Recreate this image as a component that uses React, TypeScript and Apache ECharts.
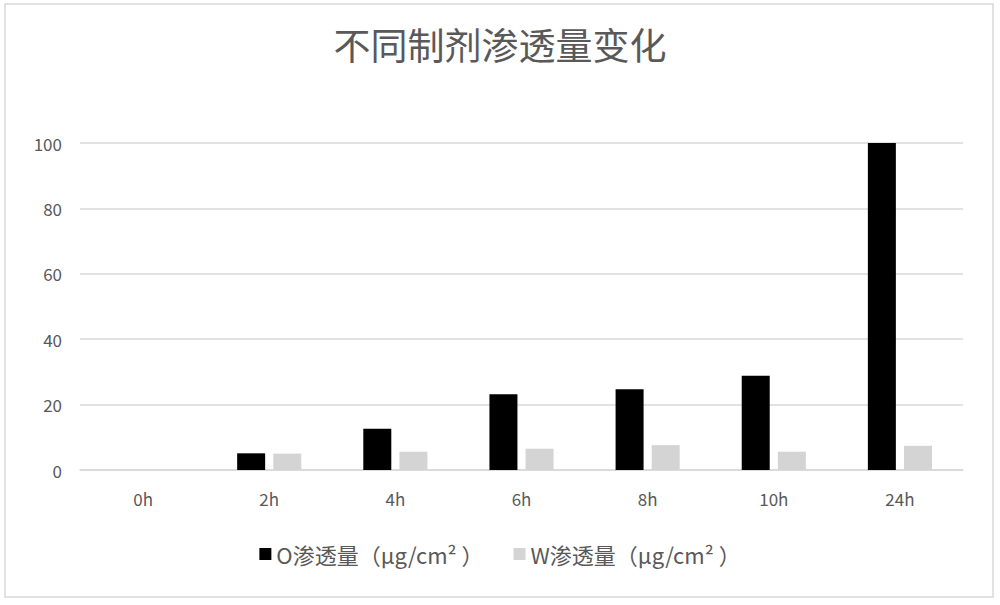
import { useRef, useEffect } from "react";
import * as echarts from "echarts";

const categories = ["0h", "2h", "4h", "6h", "8h", "10h", "24h"];
const oValues = [0, 5.1, 12.6, 23.2, 24.7, 28.8, 100];
const wValues = [0, 5.0, 5.6, 6.5, 7.6, 5.6, 7.4];
const seriesNames = ["O渗透量（μg/cm² ）", "W渗透量（μg/cm² ）"];

const FONT = "'Noto Sans CJK SC', 'Noto Sans', sans-serif";

function App() {
    const chartRef = useRef<HTMLDivElement | null>(null);

    useEffect(() => {
        if (!chartRef.current) return;
        const chart = echarts.init(chartRef.current, undefined, { renderer: "svg" });

        chart.setOption({
            animation: false,
            backgroundColor: "#fff",
            title: {
                text: "不同制剂渗透量变化",
                left: "center",
                top: 20,
                textStyle: { fontFamily: FONT, fontSize: 37, fontWeight: "normal", color: "#595959" },
            },
            legend: {
                data: seriesNames,
                bottom: 35,
                left: "center",
                itemWidth: 12,
                itemHeight: 12,
                itemGap: 30,
                icon: "rect",
                textStyle: { fontFamily: FONT, fontSize: 22, color: "#595959" },
            },
            grid: { left: 80, right: 37, top: 143, bottom: 135 },
            xAxis: {
                type: "category",
                data: categories,
                axisLine: { lineStyle: { color: "#d9d9d9", width: 1.5 } },
                axisTick: { show: false },
                axisLabel: { fontFamily: FONT, fontSize: 17, color: "#595959", margin: 20 },
            },
            yAxis: {
                type: "value",
                min: 0,
                max: 100,
                interval: 20,
                axisLine: { show: false },
                axisTick: { show: false },
                axisLabel: { fontFamily: FONT, fontSize: 17, color: "#595959", margin: 18 },
                splitLine: { lineStyle: { color: "#d9d9d9", width: 1.5 } },
            },
            graphic: [
                {
                    type: "rect",
                    shape: { x: 5, y: 4, width: 988, height: 593 },
                    style: { fill: "none", stroke: "#d9d9d9", lineWidth: 1.5 },
                    silent: true,
                },
            ],
            series: [
                {
                    name: seriesNames[0],
                    type: "bar",
                    data: oValues,
                    barWidth: 28,
                    barGap: "29%",
                    itemStyle: { color: "#000" },
                },
                {
                    name: seriesNames[1],
                    type: "bar",
                    data: wValues,
                    barWidth: 28,
                    itemStyle: { color: "#d4d4d4" },
                },
            ],
        });

        return () => {
            chart.dispose();
        };
    }, []);

    return (
        <div
            ref={chartRef}
            style={{ position: "fixed", left: 0, top: 0, width: "1000px", height: "605px" }}
        />
    );
}

export default App;
